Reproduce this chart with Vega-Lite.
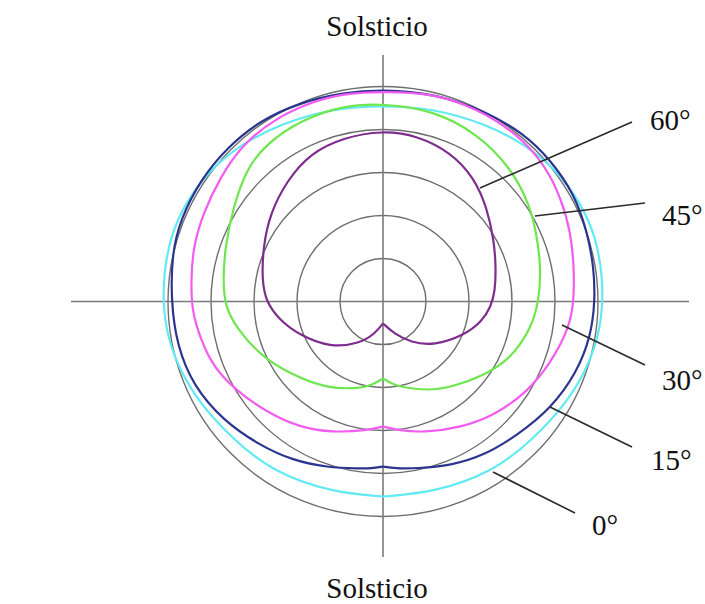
{
  "$schema": "https://vega.github.io/schema/vega-lite/v6.json",
  "width": 705,
  "height": 604,
  "autosize": {"type": "none"},
  "padding": 0,
  "background": "white",
  "config": {"view": {"stroke": null}},
  "datasets": {
    "rings": [{"r": 43}, {"r": 86}, {"r": 129}, {"r": 172}, {"r": 215}],
    "axes": [
      {"x": -312, "x2": 306, "y": 0, "y2": 0},
      {"x": 0, "x2": 0, "y": 246.5, "y2": -255.5}
    ],
    "leaders": [
      {"x": 97, "y": 113.5, "x2": 249, "y2": 179.5},
      {"x": 152, "y": 85.5, "x2": 262, "y2": 98.5},
      {"x": 179, "y": -23.5, "x2": 262, "y2": -63.5},
      {"x": 167, "y": -105.5, "x2": 249, "y2": -145.5},
      {"x": 110, "y": -170.5, "x2": 192, "y2": -211.5}
    ],
    "labels": [
      {"t": "60°", "x": 267, "y": 171.5},
      {"t": "45°", "x": 279, "y": 76.5},
      {"t": "30°", "x": 279, "y": -88.5},
      {"t": "15°", "x": 268, "y": -168.5},
      {"t": "0°", "x": 209, "y": -233.5}
    ],
    "titles": [
      {"t": "Solsticio", "x": -6, "y": 265.5},
      {"t": "Solsticio", "x": -6, "y": -296.5}
    ],
    "curves": [
      {"s": "0°", "x": 0, "y": -195}, {"s": "0°", "x": 51, "y": -191}, {"s": "0°", "x": 111, "y": -170}, {"s": "0°", "x": 151, "y": -137}, {"s": "0°", "x": 184, "y": -101}, {"s": "0°", "x": 204, "y": -67}, {"s": "0°", "x": 216, "y": -34}, {"s": "0°", "x": 220, "y": 0}, {"s": "0°", "x": 219, "y": 28}, {"s": "0°", "x": 213, "y": 64}, {"s": "0°", "x": 198, "y": 98}, {"s": "0°", "x": 174, "y": 131}, {"s": "0°", "x": 141, "y": 158}, {"s": "0°", "x": 101, "y": 178}, {"s": "0°", "x": 51, "y": 193}, {"s": "0°", "x": 0, "y": 196}, {"s": "0°", "x": -51, "y": 193}, {"s": "0°", "x": -101, "y": 178}, {"s": "0°", "x": -141, "y": 158}, {"s": "0°", "x": -174, "y": 131}, {"s": "0°", "x": -198, "y": 98}, {"s": "0°", "x": -213, "y": 64}, {"s": "0°", "x": -219, "y": 28}, {"s": "0°", "x": -220, "y": 0}, {"s": "0°", "x": -216, "y": -34}, {"s": "0°", "x": -204, "y": -67}, {"s": "0°", "x": -184, "y": -101}, {"s": "0°", "x": -151, "y": -137}, {"s": "0°", "x": -111, "y": -170}, {"s": "0°", "x": -51, "y": -191}, {"s": "0°", "x": 0, "y": -195},

      {"s": "15°", "x": 0, "y": -165}, {"s": "15°", "x": 12, "y": -167}, {"s": "15°", "x": 34, "y": -167}, {"s": "15°", "x": 68, "y": -164}, {"s": "15°", "x": 101, "y": -154}, {"s": "15°", "x": 134, "y": -134}, {"s": "15°", "x": 168, "y": -107}, {"s": "15°", "x": 194, "y": -71}, {"s": "15°", "x": 208, "y": -34}, {"s": "15°", "x": 212, "y": 0}, {"s": "15°", "x": 211, "y": 34}, {"s": "15°", "x": 204, "y": 71}, {"s": "15°", "x": 191, "y": 108}, {"s": "15°", "x": 168, "y": 141}, {"s": "15°", "x": 141, "y": 168}, {"s": "15°", "x": 101, "y": 191}, {"s": "15°", "x": 51, "y": 208}, {"s": "15°", "x": 0, "y": 212}, {"s": "15°", "x": -40, "y": 209}, {"s": "15°", "x": -83, "y": 199}, {"s": "15°", "x": -123, "y": 181}, {"s": "15°", "x": -156, "y": 154}, {"s": "15°", "x": -183, "y": 121}, {"s": "15°", "x": -203, "y": 81}, {"s": "15°", "x": -211, "y": 48}, {"s": "15°", "x": -212, "y": 0}, {"s": "15°", "x": -206, "y": -44}, {"s": "15°", "x": -190, "y": -84}, {"s": "15°", "x": -160, "y": -119}, {"s": "15°", "x": -123, "y": -144}, {"s": "15°", "x": -90, "y": -159}, {"s": "15°", "x": -56, "y": -166}, {"s": "15°", "x": -23, "y": -167}, {"s": "15°", "x": -12, "y": -167}, {"s": "15°", "x": 0, "y": -165},

      {"s": "30°", "x": 0, "y": -125}, {"s": "30°", "x": 16, "y": -129}, {"s": "30°", "x": 41, "y": -131}, {"s": "30°", "x": 78, "y": -126}, {"s": "30°", "x": 111, "y": -114}, {"s": "30°", "x": 144, "y": -91}, {"s": "30°", "x": 168, "y": -61}, {"s": "30°", "x": 186, "y": -27}, {"s": "30°", "x": 191, "y": 0}, {"s": "30°", "x": 191, "y": 34}, {"s": "30°", "x": 188, "y": 68}, {"s": "30°", "x": 178, "y": 104}, {"s": "30°", "x": 161, "y": 138}, {"s": "30°", "x": 134, "y": 168}, {"s": "30°", "x": 94, "y": 193}, {"s": "30°", "x": 51, "y": 208}, {"s": "30°", "x": 0, "y": 210}, {"s": "30°", "x": -40, "y": 208}, {"s": "30°", "x": -73, "y": 199}, {"s": "30°", "x": -106, "y": 184}, {"s": "30°", "x": -140, "y": 158}, {"s": "30°", "x": -163, "y": 124}, {"s": "30°", "x": -180, "y": 88}, {"s": "30°", "x": -190, "y": 54}, {"s": "30°", "x": -192, "y": 20}, {"s": "30°", "x": -191, "y": -7}, {"s": "30°", "x": -186, "y": -27}, {"s": "30°", "x": -173, "y": -61}, {"s": "30°", "x": -150, "y": -87}, {"s": "30°", "x": -116, "y": -111}, {"s": "30°", "x": -83, "y": -126}, {"s": "30°", "x": -50, "y": -131}, {"s": "30°", "x": -16, "y": -129}, {"s": "30°", "x": 0, "y": -125},

      {"s": "45°", "x": 0, "y": -77}, {"s": "45°", "x": 10, "y": -83}, {"s": "45°", "x": 21, "y": -86}, {"s": "45°", "x": 44, "y": -89}, {"s": "45°", "x": 68, "y": -86}, {"s": "45°", "x": 101, "y": -74}, {"s": "45°", "x": 128, "y": -57}, {"s": "45°", "x": 148, "y": -27}, {"s": "45°", "x": 156, "y": 0}, {"s": "45°", "x": 158, "y": 34}, {"s": "45°", "x": 154, "y": 64}, {"s": "45°", "x": 148, "y": 94}, {"s": "45°", "x": 128, "y": 134}, {"s": "45°", "x": 94, "y": 168}, {"s": "45°", "x": 51, "y": 191}, {"s": "45°", "x": 0, "y": 198}, {"s": "45°", "x": -40, "y": 196}, {"s": "45°", "x": -83, "y": 181}, {"s": "45°", "x": -116, "y": 158}, {"s": "45°", "x": -136, "y": 134}, {"s": "45°", "x": -150, "y": 94}, {"s": "45°", "x": -158, "y": 54}, {"s": "45°", "x": -160, "y": 21}, {"s": "45°", "x": -158, "y": -5}, {"s": "45°", "x": -146, "y": -27}, {"s": "45°", "x": -123, "y": -54}, {"s": "45°", "x": -90, "y": -74}, {"s": "45°", "x": -56, "y": -87}, {"s": "45°", "x": -23, "y": -87}, {"s": "45°", "x": -10, "y": -83}, {"s": "45°", "x": 0, "y": -77},

      {"s": "60°", "x": 0, "y": -22}, {"s": "60°", "x": 11, "y": -32}, {"s": "60°", "x": 28, "y": -41}, {"s": "60°", "x": 51, "y": -44}, {"s": "60°", "x": 81, "y": -34}, {"s": "60°", "x": 99, "y": -20}, {"s": "60°", "x": 108, "y": -5}, {"s": "60°", "x": 112, "y": 10}, {"s": "60°", "x": 113, "y": 34}, {"s": "60°", "x": 111, "y": 61}, {"s": "60°", "x": 104, "y": 94}, {"s": "60°", "x": 91, "y": 124}, {"s": "60°", "x": 68, "y": 149}, {"s": "60°", "x": 34, "y": 166}, {"s": "60°", "x": 0, "y": 171}, {"s": "60°", "x": -40, "y": 164}, {"s": "60°", "x": -73, "y": 148}, {"s": "60°", "x": -96, "y": 121}, {"s": "60°", "x": -113, "y": 88}, {"s": "60°", "x": -120, "y": 54}, {"s": "60°", "x": -121, "y": 21}, {"s": "60°", "x": -117, "y": 0}, {"s": "60°", "x": -104, "y": -18}, {"s": "60°", "x": -83, "y": -34}, {"s": "60°", "x": -53, "y": -46}, {"s": "60°", "x": -23, "y": -42}, {"s": "60°", "x": -8, "y": -32}, {"s": "60°", "x": 0, "y": -22}
    ]
  },
  "layer": [
    {
      "data": {"name": "rings"},
      "mark": {"type": "point", "shape": "circle", "filled": false, "stroke": "#6e6e6e", "strokeWidth": 1.4, "opacity": 1},
      "encoding": {
        "x": {"datum": 0, "type": "quantitative", "scale": {"domain": [-383, 322], "nice": false, "zero": false}, "axis": null},
        "y": {"datum": 0, "type": "quantitative", "scale": {"domain": [-302.5, 301.5], "nice": false, "zero": false}, "axis": null},
        "size": {"field": "r", "type": "quantitative", "scale": {"type": "pow", "exponent": 2, "domain": [0, 215], "range": [0, 184900]}, "legend": null}
      }
    },
    {
      "data": {"name": "axes"},
      "mark": {"type": "rule", "stroke": "#7a7a7a", "strokeWidth": 1.6},
      "encoding": {
        "x": {"field": "x", "type": "quantitative"},
        "x2": {"field": "x2"},
        "y": {"field": "y", "type": "quantitative"},
        "y2": {"field": "y2"}
      }
    },
    {
      "data": {"name": "curves"},
      "mark": {"type": "line", "interpolate": "basis", "strokeWidth": 2.2},
      "encoding": {
        "x": {"field": "x", "type": "quantitative"},
        "y": {"field": "y", "type": "quantitative"},
        "color": {"field": "s", "type": "nominal", "scale": {"domain": ["0°", "15°", "30°", "45°", "60°"], "range": ["#62eaf2", "#2b358e", "#f25cf0", "#6ee64e", "#7d2e8d"]}, "legend": null},
        "order": {"value": null}
      }
    },
    {
      "data": {"name": "leaders"},
      "mark": {"type": "rule", "stroke": "#2a2a2a", "strokeWidth": 1.6},
      "encoding": {
        "x": {"field": "x", "type": "quantitative"},
        "x2": {"field": "x2"},
        "y": {"field": "y", "type": "quantitative"},
        "y2": {"field": "y2"}
      }
    },
    {
      "data": {"name": "labels"},
      "mark": {"type": "text", "align": "left", "baseline": "alphabetic", "font": "Liberation Serif", "fontSize": 29, "fill": "#111"},
      "encoding": {
        "x": {"field": "x", "type": "quantitative"},
        "y": {"field": "y", "type": "quantitative"},
        "text": {"field": "t"}
      }
    },
    {
      "data": {"name": "titles"},
      "mark": {"type": "text", "align": "center", "baseline": "alphabetic", "font": "Liberation Serif", "fontSize": 29, "fill": "#111"},
      "encoding": {
        "x": {"field": "x", "type": "quantitative"},
        "y": {"field": "y", "type": "quantitative"},
        "text": {"field": "t"}
      }
    }
  ]
}
